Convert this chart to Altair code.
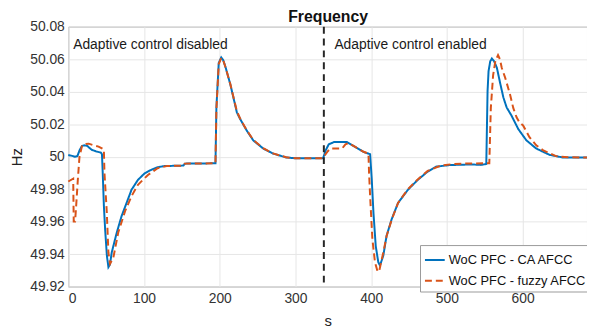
import altair as alt
import pandas as pd

# --- data -------------------------------------------------------------------
series_names = ["WoC PFC - CA AFCC", "WoC PFC - fuzzy AFCC"]
series_colors = ["#0072BD", "#D95319"]

ca_t = [0, 5, 9, 12, 15, 18, 21, 25, 31, 37, 43, 44.5, 45.5, 47, 48.7, 51, 53, 55,
        57.4, 63.9, 70.4, 77, 83.5, 92, 101, 110, 118, 127, 152, 154, 194.4, 195.6,
        198.7, 202, 204.5, 207.3, 214, 222.6, 226.9, 235.6, 244.3, 257.4, 270.4,
        287.8, 300, 336.5, 340, 344, 351, 368, 379, 390, 398.6, 400.8, 403, 406,
        409.4, 411.6, 416, 420.3, 427, 435.5, 448.5, 461.5, 474.6, 485.5, 503, 533,
        545, 552, 553.7, 555, 557.2, 559.4, 562.4, 566, 570.2, 574.6, 578.9, 585.4,
        594.1, 605, 618, 635.5, 653, 685]
ca_v = [50.001, 50.0005, 49.9999, 50.0003, 50.004, 50.0065, 50.007, 50.0066, 50.0042,
        50.0032, 50.0025, 50.0015, 49.99, 49.97, 49.955, 49.939, 49.932, 49.9335,
        49.941, 49.953, 49.9634, 49.9715, 49.9796, 49.9857, 49.9898, 49.992, 49.9935,
        49.9942, 49.9945, 49.9957, 49.9959, 50.030, 50.0577, 50.0611, 50.0595, 50.0557,
        50.0445, 50.0273, 50.0232, 50.0161, 50.010, 50.005, 50.0019, 49.9995, 49.999,
        49.999, 50.004, 50.0076, 50.009, 50.009, 50.006, 50.0029, 50.0015, 49.9857,
        49.9655, 49.945, 49.935, 49.933, 49.939, 49.9512, 49.9614, 49.9715, 49.9796,
        49.9857, 49.9908, 49.9938, 49.9948, 49.9952, 49.9949, 49.9955, 50.0405,
        50.0526, 50.0587, 50.0604, 50.0587, 50.0547, 50.0455, 50.0364, 50.0303,
        50.0252, 50.0171, 50.010, 50.005, 50.0011, 49.9995, 49.9995]

fz_t = [0, 6.5, 7.2, 9, 10.4, 12.6, 14.8, 18.3, 23, 27, 33.5, 40, 47, 47.8, 50.9, 53,
        55.2, 59.6, 66, 75, 83.5, 92, 105.2, 118, 130, 152, 154, 194.4, 195.6, 198.7,
        202, 204.5, 207.3, 214, 222.6, 226.9, 235.6, 244.3, 257.4, 270.4, 287.8, 300,
        336, 342, 346, 361.6, 366, 370, 379, 390, 396.4, 397.2, 398.6, 401.6, 405,
        408.6, 410.8, 416, 420.3, 427, 435.5, 448.5, 461.5, 474.6, 492, 509, 530, 556,
        558, 561, 564, 567.5, 570, 572.4, 577, 583.3, 587.6, 592, 596, 600.6, 609, 618,
        626.7, 644, 660, 685]
fz_v = [49.9847, 49.9864, 49.960, 49.960, 49.9695, 49.9857, 49.9999, 50.007, 50.0078,
        50.008, 50.007, 50.0062, 50.0044, 49.99, 49.9655, 49.941, 49.934, 49.938,
        49.9533, 49.9664, 49.9756, 49.9827, 49.9887, 49.9929, 49.9942, 49.9945,
        49.9957, 49.9959, 50.029, 50.057, 50.0608, 50.0595, 50.0555, 50.0447, 50.028,
        50.0235, 50.0163, 50.0103, 50.0052, 50.002, 49.9996, 49.999, 49.999, 50.0029,
        50.005, 50.005, 50.0076, 50.0084, 50.006, 50.003, 50.0019, 49.99, 49.9756,
        49.9492, 49.935, 49.929, 49.930, 49.941, 49.951, 49.961, 49.9715, 49.980,
        49.986, 49.9912, 49.9945, 49.9955, 49.9958, 49.9959, 50.03, 50.05, 50.059,
        50.0625, 50.060, 50.0547, 50.0485, 50.0384, 50.030, 50.0242, 50.021, 50.0192,
        50.012, 50.007, 50.004, 50.0003, 49.9996, 49.9995]

switch_time = [337.5]
notes_text = ["Adaptive control disabled", "Adaptive control enabled"]
notes_t = [6.5, 351.4]
notes_v = [50.0664, 50.0664]
title_text = ["Frequency"]

x_ticks = [0, 100, 200, 300, 400, 500, 600]
y_ticks = [49.92, 49.94, 49.96, 49.98, 50.0, 50.02, 50.04, 50.06, 50.08]

# --- tables ------------------------------------------------------------------
df = pd.concat([
    pd.DataFrame({"t": ca_t, "f": ca_v, "series": series_names[0]}),
    pd.DataFrame({"t": fz_t, "f": fz_v, "series": series_names[1]}),
], ignore_index=True)
notes = pd.DataFrame({"t": notes_t, "f": notes_v, "label": notes_text})
switch = pd.DataFrame({"t": switch_time})
title_df = pd.DataFrame({"label": title_text})

x_scale = alt.Scale(domain=[0, 685], nice=False, zero=False)
y_scale = alt.Scale(domain=[49.92, 50.08], nice=False, zero=False)

x_axis = alt.Axis(values=x_ticks, title="s", titleY=39, titleBaseline="alphabetic",
                  labelPadding=5, labelOverlap=False)
y_axis = alt.Axis(values=y_ticks, format="~g", title="Hz", titleX=-52, titleY=131.5,
                  titleBaseline="middle", labelPadding=4, labelOverlap=False)
x_enc = alt.X("t:Q", scale=x_scale, axis=x_axis)
y_enc = alt.Y("f:Q", scale=y_scale, axis=y_axis)

color_enc = alt.Color("series:N",
                      scale=alt.Scale(domain=series_names, range=series_colors),
                      legend=alt.Legend(title=None, orient="none",
                                        legendX=356, legendY=221))
dash_enc = alt.StrokeDash("series:N",
                          scale=alt.Scale(domain=series_names, range=[[1, 0], [7, 4]]),
                          legend=alt.Legend(title=None, orient="none",
                                            legendX=356, legendY=221))

base = alt.Chart(df).encode(x=x_enc, y=y_enc, color=color_enc, strokeDash=dash_enc)
blue = base.transform_filter(alt.datum.series == series_names[0]).mark_line(strokeWidth=2)
orange = base.transform_filter(alt.datum.series == series_names[1]).mark_line(strokeWidth=2)

rule = alt.Chart(switch).mark_rule(color="#262626", strokeWidth=2,
                                   strokeDash=[7, 5]).encode(x=x_enc)

texts = alt.Chart(notes).mark_text(align="left", baseline="alphabetic", fontSize=14,
                                   color="#1a1a1a").encode(
    x=x_enc, y=y_enc, text="label:N")

title = alt.Chart(title_df).mark_text(align="center", baseline="alphabetic",
                                      fontSize=16, fontWeight="bold",
                                      color="#111111").encode(
    x=alt.value(263), y=alt.value(-5), text="label:N")

chart = alt.layer(blue, orange, rule, texts, title).properties(
    width=525, height=263,
    padding={"left": 61, "top": 17, "right": 0, "bottom": 41},
    autosize=alt.AutoSizeParams(type="none"),
).configure(font="Liberation Sans").configure_view(
    stroke="#8c8c8c", strokeWidth=1
).configure_axis(
    domain=False, ticks=False, gridColor="#e6e6e6", gridWidth=1,
    labelFontSize=14, labelColor="#333333", titleFontSize=15,
    titleFontWeight="normal", titleColor="#222222"
).configure_legend(
    fillColor="white", strokeColor="#999999", padding=4, cornerRadius=0,
    labelFontSize=13, labelColor="#111111", symbolType="stroke",
    symbolStrokeWidth=2, symbolSize=400, rowPadding=3, labelOffset=3
)

chart.save("out.html", embed_options={"renderer": "svg", "actions": False})
